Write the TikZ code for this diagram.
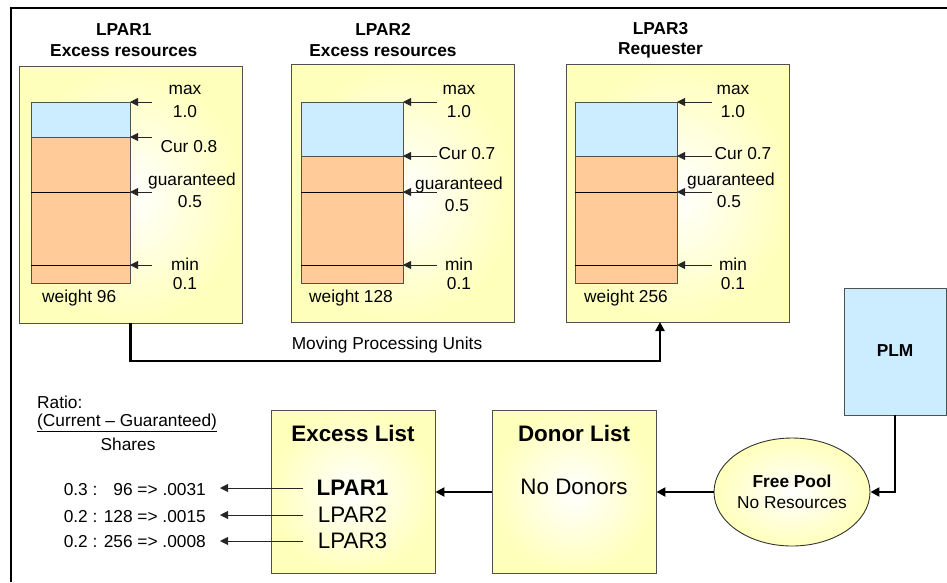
\documentclass[tikz,border=0pt]{standalone}
\usepackage{fontspec}
\setmainfont{Liberation Sans}
\usetikzlibrary{arrows.meta,shapes.geometric}
\definecolor{ylw}{RGB}{255,255,188}
\definecolor{blu}{RGB}{204,236,255}
\definecolor{org}{RGB}{255,204,153}
\definecolor{edge}{RGB}{80,80,80}
\newcommand\myfs{\fontsize{17.3}{20.5}\selectfont}
\newcommand\mybig{\fontsize{22.4}{26.5}\selectfont}
\begin{document}
\begin{tikzpicture}[x=1pt,y=-1pt,
  txt/.style={inner sep=0pt,font=\myfs},
  bigtxt/.style={inner sep=0pt,font=\mybig},
  ybox/.style={draw=edge,line width=0.9pt,shading=radial,inner color=white,outer color=ylw,inner sep=0pt},
  thinarr/.style={draw=black!85,line width=0.9pt,-{Triangle[length=8pt,width=8pt]}},
  thickarr/.style={draw=black,line width=2.6pt,-{Triangle[length=9pt,width=9pt]}},
  barline/.style={draw=edge,line width=0.9pt},
  mark line/.style={draw=black,line width=0.9pt}]
\useasboundingbox (0,0) rectangle (947,582);
\draw[line width=1.3pt] (11,582) -- (11,8) -- (947,8);

\foreach \n/\bcx/\bcy/\bh/\bl/\br/\ax/\cy/\mx/\cx/\cyy/\gx/\gy/\fy/\wx/\wt/\tx/\sub/\cur in {
  1/130.5/194.5/257/31/130/152/137/185/189/147/192/181/202/42/96/123.8/Excess resources/Cur 0.8,
  2/402.5/193/258/301/403/437/156/459/467/154/459/185/206/309/128/383/Excess resources/Cur 0.7,
  3/677.5/193/258/575/677/712/156/733/743/154/731/181/202/584/256/660.5/Requester/Cur 0.7}{
  \node[ybox,minimum width=223pt,minimum height=\bh pt] (box\n) at (\bcx,\bcy) {};
  \node[txt,font=\myfs\bfseries,align=center] (title\n) at (\tx,40) {LPAR\n\\\sub};
  \fill[blu] (\bl,102) rectangle (\br,\cy);
  \fill[org] (\bl,\cy) rectangle (\br,283);
  \draw[barline] (\bl,102) rectangle (\br,283);
  \draw[barline] (\bl,\cy) -- (\br,\cy);
  \draw[mark line] (\bl,192) -- (\br,192);
  \draw[mark line] (\bl,265) -- (\br,265);
  \coordinate (top\n) at (\br,102);
  \coordinate (cur\n) at (\br,\cy);
  \coordinate (gua\n) at (\br,192);
  \coordinate (min\n) at (\br,265);
  \foreach \p/\yy in {top/102,cur/\cy,gua/192,min/265}{
    \coordinate (s\p\n) at (\ax,\yy);
    \draw[thinarr] (s\p\n) -- (\p\n);
  }
  \node[txt] (lmax\n) at (\mx,90) {max};
  \node[txt] (lone\n) at (\mx,112) {1.0};
  \node[txt] (lcur\n) at (\cx,\cyy) {\cur};
  \node[txt] (lgua\n) at (\gx,\gy) {guaranteed};
  \node[txt] (lhalf\n) at (\gx-2,\fy) {0.5};
  \node[txt] (lmin\n) at (\mx,264) {min};
  \node[txt] (lten\n) at (\mx,284) {0.1};
  \node[txt,anchor=west] (w\n) at (\wx,298) {weight \wt};
}

% moving processing units
\coordinate (mpuend) at (660,322);
\draw[thickarr] (box1.south) -- (130.5,361) -| (mpuend);
\node[txt] (mpu) at (387,345) {Moving Processing Units};

% PLM
\node[draw=edge,line width=0.9pt,fill=blu,minimum width=102pt,minimum height=127pt,inner sep=0pt] (plm) at (895,351.5) {};
\node[txt,font=\myfs\bfseries] (plmt) at (895,351) {PLM};

% free pool
\node[ellipse,draw=black!80,line width=0.9pt,shading=radial,inner color=white,outer color=ylw,minimum width=156pt,minimum height=108pt,inner sep=0pt] (pool) at (792,492) {};
\node[txt,align=center] (poolt) at (792,492) {\textbf{Free Pool}\\No Resources};

% donor list
\node[ybox,minimum width=164pt,minimum height=163pt] (donor) at (574,491.5) {};
\node[bigtxt,font=\mybig\bfseries] (donort) at (574,433) {Donor List};
\node[bigtxt] (nodon) at (574,487) {No Donors};

% excess list
\node[ybox,minimum width=164pt,minimum height=163pt] (excess) at (353,491.5) {};
\node[bigtxt,font=\mybig\bfseries] (exct) at (353,433) {Excess List};
\node[bigtxt,font=\mybig\bfseries] (e1) at (352.5,488) {LPAR1};
\node[bigtxt] (e2) at (352.5,515) {LPAR2};
\node[bigtxt] (e3) at (352.5,541) {LPAR3};

\draw[thickarr] (plm.south) |- (pool.east);
\draw[thickarr] (pool.west) -- (pool.west -| donor.east);
\draw[thickarr] (pool.west -| donor.west) -- (pool.west -| excess.east);

% ratio
\node[txt,anchor=west] (ratio) at (37,402) {Ratio:};
\node[txt,anchor=west] (ratio2) at (37,423) {\underline{(Current – Guaranteed)}};
\node[txt] (shares) at (128,444) {Shares};
\node[txt,anchor=east] (v1) at (206,490) {0.3 : \phantom{1}96 => .0031};
\node[txt,anchor=east] (v2) at (206,517) {0.2 : 128 => .0015};
\node[txt,anchor=east] (v3) at (206,542) {0.2 : 256 => .0008};
\coordinate (a1) at (303,488);
\coordinate (a2) at (303,515);
\coordinate (a3) at (303,541);
\coordinate (b1) at (220,488);
\coordinate (b2) at (220,515);
\coordinate (b3) at (220,541);
\draw[thinarr] (a1) -- (b1);
\draw[thinarr] (a2) -- (b2);
\draw[thinarr] (a3) -- (b3);
\end{tikzpicture}
\end{document}
